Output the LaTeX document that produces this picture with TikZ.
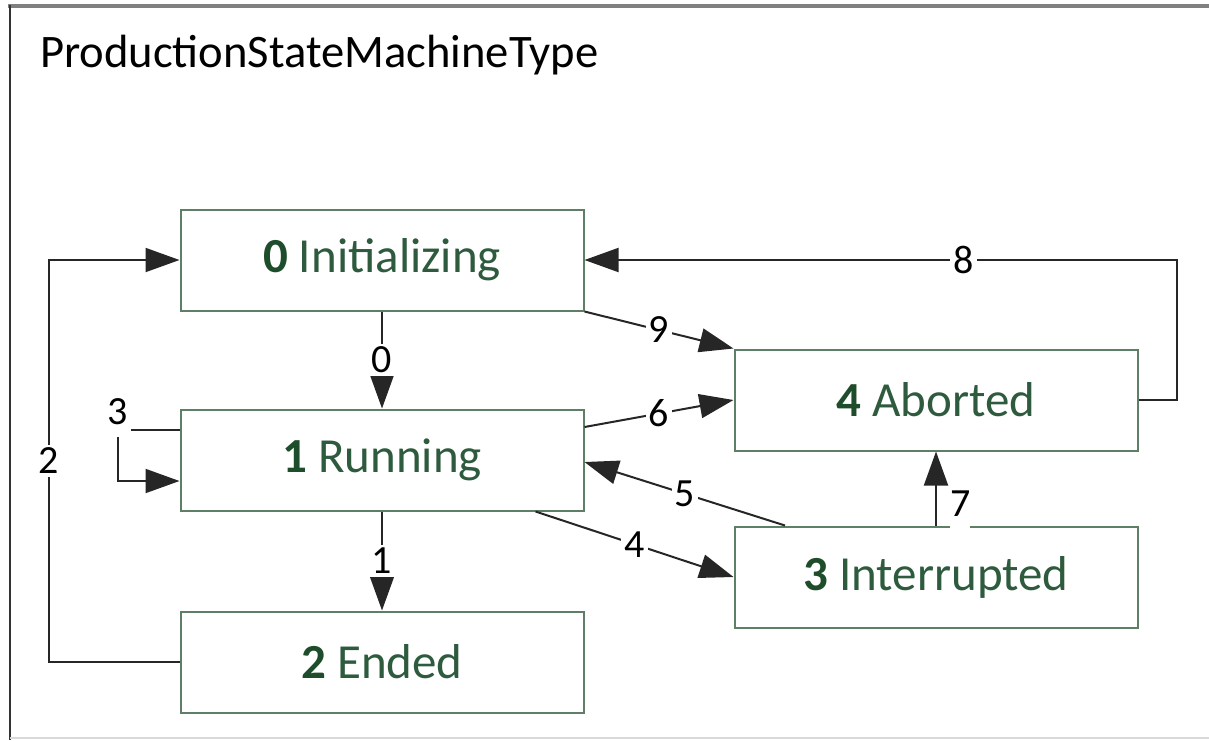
\documentclass[tikz,border=0pt]{standalone}
\usepackage{fontspec}
\setmainfont{Carlito}
\usetikzlibrary{arrows.meta}
\definecolor{boxgreen}{HTML}{5E7F66}
\definecolor{textgreen}{HTML}{2E5B3E}
\definecolor{digitgreen}{HTML}{1E4D2B}
\tikzset{
  state/.style={draw=boxgreen, line width=1pt, minimum width=201.5pt, minimum height=50.5pt,
    inner sep=0pt, text=textgreen, font=\fontsize{24.5}{29}\selectfont},
  trans/.style={draw=black!85, line width=1pt, -{Triangle[length=17pt,width=12pt]}},
  lbl/.style={fill=white, inner sep=1.5pt, text=black, font=\fontsize{20}{24}\selectfont}
}
\newcommand{\stnum}[1]{\textcolor{digitgreen}{\textbf{#1}}}
\begin{document}
\begin{tikzpicture}[x=0.5pt, y=-0.5pt]
\useasboundingbox (0,0) rectangle (1209,740);
% frame
\draw[black!50, line width=2pt] (8,6) -- (1209,6);
\draw[black!80, line width=1pt] (10,5) -- (10,740);
\draw[black!15, line width=1pt] (10,738) -- (1209,738);
\node[anchor=base west, font=\fontsize{23.3}{28}\selectfont] (T) at (33,67) {ProductionStateMachineType};
% states
\node[state] (S_0) at (382,260) {\stnum{0} Initializing};
\node[state] (S_1) at (382,460) {\stnum{1} Running};
\node[state] (S_2) at (382,662) {\stnum{2} Ended};
\node[state] (S_4) at (936,400) {\stnum{4} Aborted};
\node[state] (S_3) at (936,577) {\stnum{3} Interrupted};
% transitions
\draw[trans] (S_0) -- (S_1) node[midway, lbl] {0};
\draw[trans] (S_1) -- (S_2) node[midway, lbl] {1};
\draw[trans] (S_2.west) -- ++(-131,0) |- (S_0.west) node[pos=0.25, lbl] {2};
\draw[trans] ([yshift=15pt]S_1.west) -- ++(-62,0) node[lbl, inner ysep=6pt, yshift=9pt] {3} -- ++(0,51) -- ([yshift=-10.5pt]S_1.west);
\draw[trans] ([xshift=-24.5pt]S_1.south east) -- (S_3.west) node[midway, lbl] {4};
\draw[trans] ([xshift=-75.5pt]S_3.north) -- ([yshift=-1pt]S_1.east) node[midway, lbl] {5};
\draw[trans] ([yshift=16.5pt]S_1.east) -- (S_4.west) node[midway, lbl] {6};
\draw[trans] (S_3.north) -- (S_4.south) node[pos=0.3, anchor=west, xshift=6.5pt, lbl, inner xsep=0pt, inner ysep=6.5pt] {7};
\draw[trans] (S_4.east) -- ++(38,0) |- (S_0.east) node[pos=0.68, lbl] {8};
\draw[trans] (S_0.south east) -- (S_4.north west) node[midway, lbl] {9};
\end{tikzpicture}
\end{document}
